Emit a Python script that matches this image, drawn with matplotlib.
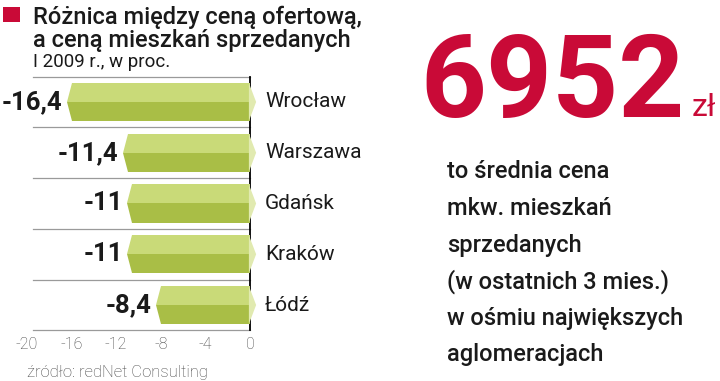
import matplotlib
matplotlib.use("Agg")
import matplotlib.pyplot as plt
from matplotlib.patches import Polygon, Rectangle

cities = ["Wrocław", "Warszawa", "Gdańsk", "Kraków", "Łódź"]
values = [-16.4, -11.4, -11, -11, -8.4]
value_labels = ["-16,4", "-11,4", "-11", "-11", "-8,4"]
ticks = [-20, -16, -12, -8, -4, 0]

RED = "#c90a37"
LIGHT = "#c9da78"
DARK = "#a9be46"
TIP = "#e1eab0"

plt.rcParams["font.family"] = ["Roboto", "DejaVu Sans"]

W, H = 720, 381
fig = plt.figure(figsize=(7.2, 3.81), dpi=100)

def fx(px):
    return px / W

def fy(py):
    return 1 - py / H

# bar panel: x=-20 at px 27, x=0 at px 250, rows between px 76.6 and 330.4
ax = fig.add_axes([fx(27), fy(330.4), (250 - 27) / W, (330.4 - 76.6) / H])
ax.set_xlim(-20, 0)
ax.set_ylim(len(cities) - 0.5, -0.5)
for s in ax.spines.values():
    s.set_visible(False)
ax.set_yticks([])
ax.set_xticks(ticks)
ax.set_xticklabels([str(t) for t in ticks], fontsize=11.5, fontweight="light", color="#444444")
ax.tick_params(axis="x", length=0, pad=5)

# separators
for i in range(len(cities) + 1):
    ax.plot([-19.5, 0], [i - 0.5, i - 0.5], color="#9a9a9a", lw=0.9, clip_on=False, zorder=1)
ax.plot([0, 0], [-0.5, len(cities) - 0.5], color="black", lw=1.3, clip_on=False, zorder=1)

bh = 0.75
d = 0.45
tip = 0.55
for i, (v, lab, city) in enumerate(zip(values, value_labels, cities)):
    top, bot = i - bh / 2, i + bh / 2
    ax.add_patch(Polygon([(v + d, top), (0, top), (0, i), (v, i)],
                         closed=True, fc=LIGHT, ec="none", zorder=2, clip_on=False))
    ax.add_patch(Polygon([(v, i), (0, i), (0, bot), (v + d, bot)],
                         closed=True, fc=DARK, ec="none", zorder=2, clip_on=False))
    ax.add_patch(Polygon([(-0.1, top), (tip, i), (-0.1, bot)],
                         closed=True, fc=TIP, ec="none", zorder=3, clip_on=False))
    ax.text(v - 0.4, i, lab, ha="right", va="center", fontsize=18.5,
            fontweight="bold", color="#1a1a1a", clip_on=False)
    ax.text(1.35, i, city, ha="left", va="center", fontsize=15,
            color="#1a1a1a", clip_on=False)

# title block
fig.patches.append(Rectangle((fx(3), fy(22)), fx(17), 15 / H, transform=fig.transFigure,
                             fc=RED, ec="none"))
fig.text(fx(33), fy(17), "Różnica między ceną ofertową,", fontsize=17,
         fontweight="medium", color="#1a1a1a", va="center", ha="left")
fig.text(fx(33), fy(40), "a ceną mieszkań sprzedanych", fontsize=17,
         fontweight="medium", color="#1a1a1a", va="center", ha="left")
fig.text(fx(33), fy(62), "I 2009 r., w proc.", fontsize=13.5,
         color="#1a1a1a", va="center", ha="left")

fig.text(fx(27), fy(372), "źródło: redNet Consulting", fontsize=12,
         fontweight="light", color="#444444", va="center", ha="left")

# big number
fig.text(fx(420), fy(117), "6952", fontsize=83, fontweight="bold",
         color=RED, va="baseline", ha="left")
fig.text(fx(692), fy(116), "zł", fontsize=23, color=RED, va="baseline", ha="left")

lines = ["to średnia cena", "mkw. mieszkań", "sprzedanych",
         "(w ostatnich 3 mies.)", "w ośmiu największych", "aglomeracjach"]
for k, line in enumerate(lines):
    fig.text(fx(447), fy(172 + 36.6 * k), line, fontsize=17, fontweight="medium",
             color="#1a1a1a", va="center", ha="left")

fig.savefig("out.png", dpi=100)
